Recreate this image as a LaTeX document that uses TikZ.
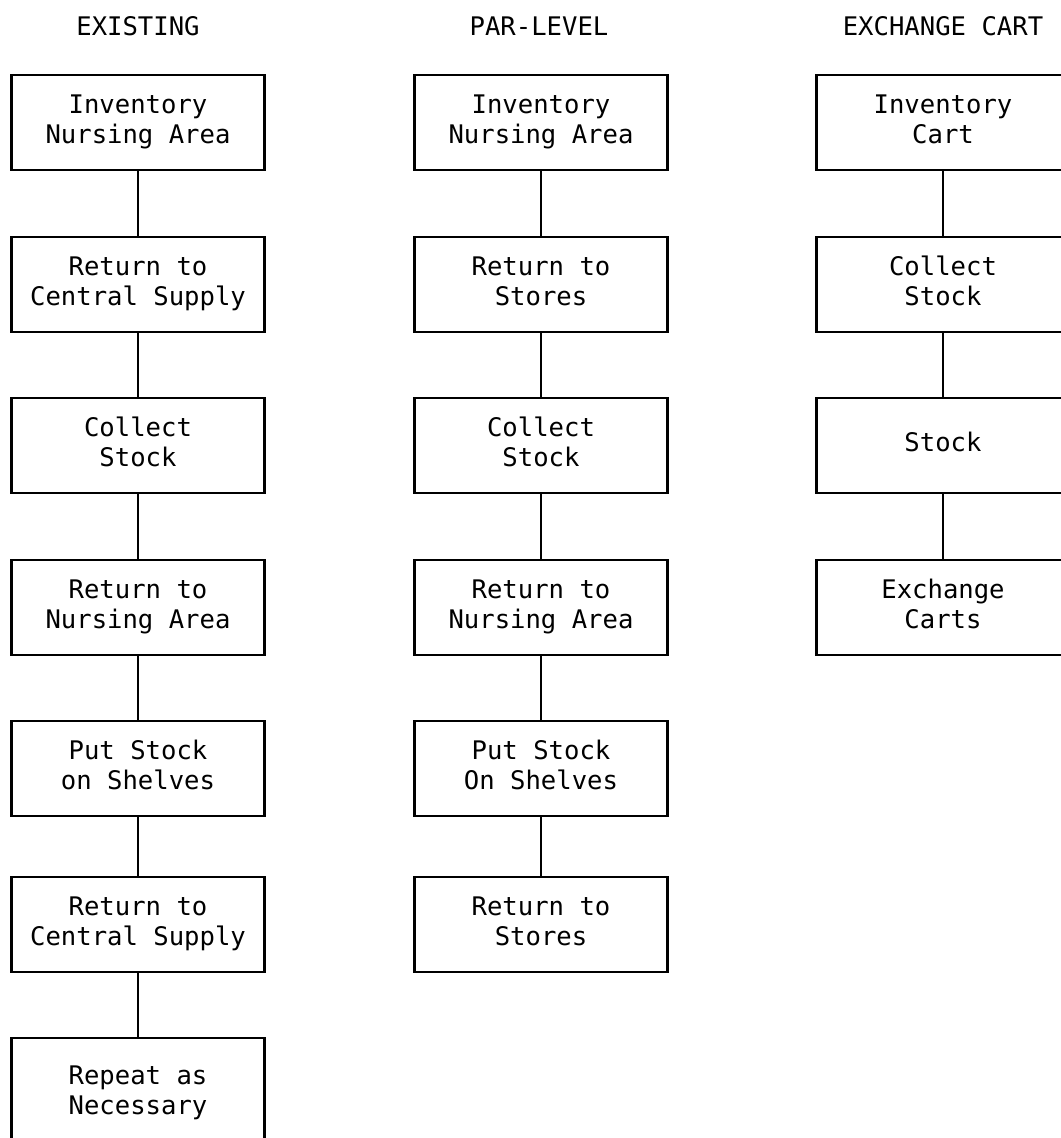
\documentclass[tikz,border=0pt]{standalone}
\usepackage{fontspec}
\setmainfont{DejaVu Sans Mono}
\newcommand\boxfont{\fontsize{25.6bp}{30bp}\selectfont}
\newcommand\tl[2]{\strut #1\\\strut #2}
\tikzset{
  stepbox/.style={draw, line width=2.2bp, minimum width=253bp, minimum height=95bp,
    inner sep=0pt, align=center, font=\boxfont},
  coltitle/.style={font=\boxfont, anchor=base, inner sep=0pt},
  link/.style={line width=2.2bp}
}
\begin{document}
\begin{tikzpicture}[x=1bp,y=-1bp]
\useasboundingbox (0,0) rectangle (1061,1138);
\clip (0,0) rectangle (1061,1138);
\fill[white] (0,0) rectangle (1061,1138);

% titles
\node[coltitle] (t1) at (138,35) {EXISTING};
\node[coltitle] (t2) at (539,35) {PAR-LEVEL};
\node[coltitle] (t3) at (943,35) {EXCHANGE CART};

% column 1
\node[stepbox] (a1) at (138,122.5) {\tl{Inventory}{Nursing Area}};
\node[stepbox] (a2) at (138,284.5) {\tl{Return to}{Central Supply}};
\node[stepbox] (a3) at (138,445.5) {\tl{Collect}{Stock}};
\node[stepbox] (a4) at (138,607.5) {\tl{Return to}{Nursing Area}};
\node[stepbox] (a5) at (138,768.5) {\tl{Put Stock}{on Shelves}};
\node[stepbox] (a6) at (138,924.5) {\tl{Return to}{Central Supply}};
\node[stepbox, minimum height=110bp] (a7) at (138,1093) {\tl{Repeat as}{Necessary}};

% column 2
\node[stepbox] (b1) at (541,122.5) {\tl{Inventory}{Nursing Area}};
\node[stepbox] (b2) at (541,284.5) {\tl{Return to}{Stores}};
\node[stepbox] (b3) at (541,445.5) {\tl{Collect}{Stock}};
\node[stepbox] (b4) at (541,607.5) {\tl{Return to}{Nursing Area}};
\node[stepbox] (b5) at (541,768.5) {\tl{Put Stock}{On Shelves}};
\node[stepbox] (b6) at (541,924.5) {\tl{Return to}{Stores}};

% column 3
\node[stepbox] (c1) at (943,122.5) {\tl{Inventory}{Cart}};
\node[stepbox] (c2) at (943,284.5) {\tl{Collect}{Stock}};
\node[stepbox] (c3) at (943,445.5) {\strut Stock\strut};
\node[stepbox] (c4) at (943,607.5) {\tl{Exchange}{Carts}};

% connectors
\draw[link] (a1) -- (a2);
\draw[link] (a2) -- (a3);
\draw[link] (a3) -- (a4);
\draw[link] (a4) -- (a5);
\draw[link] (a5) -- (a6);
\draw[link] (a6) -- (a7);
\draw[link] (b1) -- (b2);
\draw[link] (b2) -- (b3);
\draw[link] (b3) -- (b4);
\draw[link] (b4) -- (b5);
\draw[link] (b5) -- (b6);
\draw[link] (c1) -- (c2);
\draw[link] (c2) -- (c3);
\draw[link] (c3) -- (c4);
\end{tikzpicture}
\end{document}
